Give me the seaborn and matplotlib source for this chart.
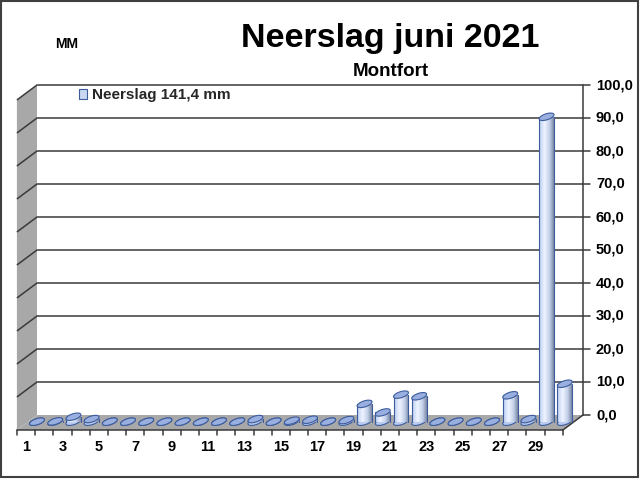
import numpy as np
import pandas as pd
import matplotlib
matplotlib.use("Agg")
import matplotlib.pyplot as plt
import seaborn as sns
from matplotlib.patches import Polygon, Rectangle
from matplotlib.colors import LinearSegmentedColormap

# Daily precipitation, June 2021, Montfort (mm)
days = list(range(1, 31))
rain_mm = [0.0, 0.1, 1.5, 0.8, 0.0, 0.0, 0.0, 0.0, 0.0, 0.0,
           0.0, 0.0, 0.8, 0.0, 0.3, 0.6, 0.0, 0.5, 5.4, 2.8,
           8.2, 7.7, 0.0, 0.0, 0.0, 0.0, 8.0, 0.8, 92.4, 11.5]
y_ticks = [0, 10, 20, 30, 40, 50, 60, 70, 80, 90, 100]
y_tick_labels = ["0,0", "10,0", "20,0", "30,0", "40,0", "50,0",
                 "60,0", "70,0", "80,0", "90,0", "100,0"]
x_tick_days = [1, 3, 5, 7, 9, 11, 13, 15, 17, 19, 21, 23, 25, 27, 29]

title = "Neerslag juni 2021"
subtitle = "Montfort"
unit = "MM"
total = sum(rain_mm)
legend_label = f"Neerslag {total:.1f} mm".replace(".", ",")

sns.set_style("white")
plt.rcParams["font.family"] = ["Liberation Sans", "DejaVu Sans"]

W, H = 640, 480
PX_CAT, PX_MM = 18.2, 3.3      # pixel size of one category / one mm
X0_PX, Y0_PX = 37.0, 421.7     # position of first bar centre / bar base

# oblique depth offsets (front face and back wall) relative to the bar plane
F_DX, F_DY = -11.0 / PX_CAT, -8.3 / PX_MM
B_DX, B_DY = 9.1 / PX_CAT, 6.7 / PX_MM

EDGE = "#3d5c9c"
GRID = "#3a3a3a"
WALL = "#a8a8a8"

fig = plt.figure(figsize=(W / 100, H / 100), dpi=100)
fig.patch.set_facecolor("white")
ax = fig.add_axes([0, 0, 1, 1])

df = pd.DataFrame({"dag": [str(d) for d in days], "neerslag": rain_mm})
sns.barplot(data=df, x="dag", y="neerslag", order=[str(d) for d in days],
            width=0.82, color="#dbe5f8", saturation=1, ax=ax, zorder=4,
            errorbar=None)
bars = list(ax.patches)

n = len(days)
xl_f, xr_f = -0.5 + F_DX, n - 0.5 + F_DX
xl_b, xr_b = -0.5 + B_DX, n - 0.5 + B_DX
top = y_ticks[-1]

# floor and side wall
ax.add_patch(Polygon([(xl_f, F_DY), (xr_f, F_DY), (xr_b, B_DY), (xl_b, B_DY)],
                     closed=True, fc=WALL, ec="none", zorder=1))
ax.add_patch(Polygon([(xl_f, F_DY), (xl_b, B_DY), (xl_b, top + B_DY), (xl_f, top + F_DY)],
                     closed=True, fc=WALL, ec="none", zorder=1))

# gridlines running over side wall and back wall
for v in y_ticks[1:]:
    ax.plot([xl_f, xl_b, xr_b], [v + F_DY, v + B_DY, v + B_DY],
            color=GRID, lw=1.1, zorder=2, solid_capstyle="butt")

# value axis on the right
ax.plot([xr_b, xr_b], [B_DY, top + B_DY], color=GRID, lw=1.1, zorder=2)
ax.plot([xr_f, xr_b], [F_DY, B_DY], color=GRID, lw=1.1, zorder=2)
for v, lab in zip(y_ticks, y_tick_labels):
    ax.plot([xr_b, xr_b + 7 / PX_CAT], [v + B_DY, v + B_DY], color=GRID, lw=1.1, zorder=2)
    ax.text(xr_b + 13 / PX_CAT, v + B_DY, lab, ha="left", va="center",
            fontsize=10.5, fontweight="bold", color="black")

# category axis on the front edge
ax.plot([xl_f, xr_f], [F_DY, F_DY], color=GRID, lw=1.1, zorder=2)
for k in range(n + 1):
    ax.plot([k - 0.5 + F_DX] * 2, [F_DY, F_DY - 5 / PX_MM], color=GRID, lw=1.1, zorder=2)
for d in x_tick_days:
    ax.text(days.index(d) + F_DX, F_DY - 17 / PX_MM, str(d), ha="center", va="center",
            fontsize=10.5, fontweight="bold", color="black")


def ellipse_xy(cx, cy, a_px, b_px=3.0, tilt=18):
    t = np.linspace(0, 2 * np.pi, 80)
    th = np.deg2rad(tilt)
    dx = a_px * np.cos(t) * np.cos(th) - b_px * np.sin(t) * np.sin(th)
    dy = a_px * np.cos(t) * np.sin(th) + b_px * np.sin(t) * np.cos(th)
    return np.column_stack([cx + dx / PX_CAT, cy + dy / PX_MM])


cyl = LinearSegmentedColormap.from_list(
    "cyl", [(0, "#a9bde6"), (0.12, "#cddbf6"), (0.38, "#eef3ff"),
            (0.72, "#c2cfe9"), (1, "#7b88a4")])
grad = np.linspace(0, 1, 64).reshape(1, -1)

for p in bars:
    x0, w, h = p.get_x(), p.get_width(), p.get_height()
    cx = x0 + w / 2
    a_px = w * PX_CAT / 2 + 0.3
    ax.add_patch(Polygon(ellipse_xy(cx, 0, a_px), closed=True, fc="#b9cbee",
                         ec=EDGE, lw=0.8, zorder=3))
    p.set_edgecolor("none")
    if h > 0:
        im = ax.imshow(grad, cmap=cyl, extent=[x0, x0 + w, 0, h], aspect="auto",
                       interpolation="bilinear", zorder=4)
        im.set_clip_path(p)
        ax.plot([x0, x0], [0, h], color=EDGE, lw=0.8, zorder=4.5)
        ax.plot([x0 + w, x0 + w], [0, h], color=EDGE, lw=0.8, zorder=4.5)
    ax.add_patch(Polygon(ellipse_xy(cx, h, a_px), closed=True, fc="#98afdf",
                         ec=EDGE, lw=0.8, zorder=5))

ax.set_xlim(-X0_PX / PX_CAT, (W - X0_PX) / PX_CAT)
ax.set_ylim(-(H - Y0_PX) / PX_MM, Y0_PX / PX_MM)
ax.axis("off")

# legend inside the plot area
handle = Rectangle((0, 0), 1, 1, fc="#c9d7f3", ec=EDGE, lw=0.8)
ax.legend(handles=[handle], labels=[legend_label], loc="center left",
          bbox_to_anchor=(79 / W, 1 - 95.5 / H), bbox_transform=fig.transFigure,
          frameon=False, handlelength=0.55, handleheight=0.55, handletextpad=0.3,
          borderpad=0, borderaxespad=0,
          prop={"weight": "bold", "size": 11, "family": "Liberation Sans"})

# titles
fig.text(390.5 / W, 1 - 47 / H, title, ha="center", va="baseline",
         fontsize=24.5, fontweight="bold", color="black")
fig.text(391 / W, 1 - 76 / H, subtitle, ha="center", va="baseline",
         fontsize=13.5, fontweight="bold", color="black")
fig.text(67 / W, 1 - 47.5 / H, unit, ha="center", va="baseline",
         fontsize=10, fontweight="bold", color="black")

# chart border
fig.add_artist(Rectangle((1 / W, 3 / H), 637 / W, 476 / H, transform=fig.transFigure,
                         fill=False, ec="#404040", lw=1.5))

fig.savefig("out.png", dpi=100)
